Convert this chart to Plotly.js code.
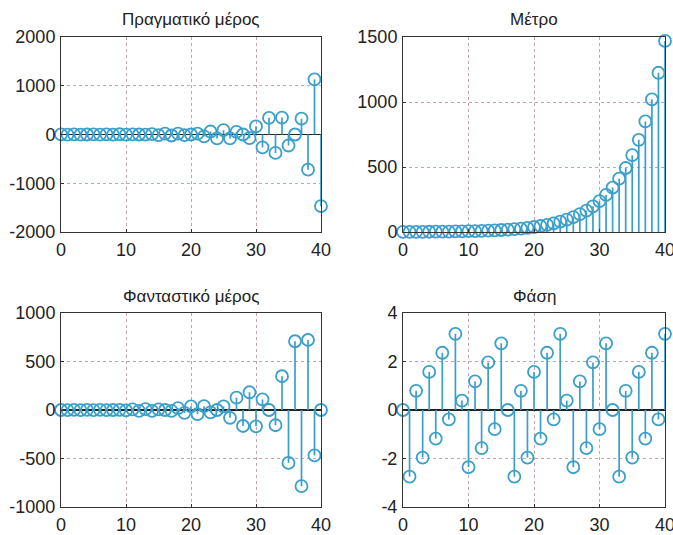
<!DOCTYPE html>
<html>
<head>
<meta charset="utf-8">
<script src="https://cdn.plot.ly/plotly-3.0.1.min.js"></script>
<style>html,body{margin:0;padding:0;background:#fff;}#chart{width:673px;height:535px;}</style>
</head>
<body>
<div id="chart"></div>
<script>
// sample index
const n = [0,1,2,3,4,5,6,7,8,9,10,11,12,13,14,15,16,17,18,19,20,21,22,23,24,25,26,27,28,29,30,31,32,33,34,35,36,37,38,39,40];
// real part
const realPart = [1.00,-1.11,1.02,-0.66,0.00,0.95,-2.11,3.31,-4.30,4.77,-4.38,2.84,0.00,-4.09,9.08,-14.23,18.49,-20.50,18.83,-12.23,0.00,17.61,-39.04,61.20,-79.50,88.13,-80.95,52.57,0.00,-75.70,167.85,-263.17,341.82,-378.96,348.06,-226.04,0.00,325.49,-721.73,1131.58,-1469.77];
// imaginary part
const imagPart = [0.00,-0.46,1.02,-1.60,2.07,-2.30,2.11,-1.37,0.00,1.97,-4.38,6.86,-8.92,9.88,-9.08,5.90,0.00,-8.49,18.83,-29.52,38.34,-42.50,39.04,-25.35,0.00,36.51,-80.95,126.91,-164.84,182.76,-167.85,109.01,0.00,-156.97,348.06,-545.71,708.80,-785.82,721.73,-468.71,0.00];
// magnitude
const magnitude = [1.00,1.20,1.44,1.73,2.07,2.49,2.99,3.58,4.30,5.16,6.19,7.43,8.92,10.70,12.84,15.41,18.49,22.19,26.62,31.95,38.34,46.01,55.21,66.25,79.50,95.40,114.48,137.37,164.84,197.81,237.38,284.85,341.82,410.19,492.22,590.67,708.80,850.56,1020.67,1224.81,1469.77];
// phase (rad)
const phase = [0.00,-2.75,0.79,-1.96,1.57,-1.18,2.36,-0.39,3.14,0.39,-2.36,1.18,-1.57,1.96,-0.79,2.75,0.00,-2.75,0.79,-1.96,1.57,-1.18,2.36,-0.39,3.14,0.39,-2.36,1.18,-1.57,1.96,-0.79,2.75,0.00,-2.75,0.79,-1.96,1.57,-1.18,2.36,-0.39,3.14];

// tick labels
const xTicks = [0,10,20,30,40];
const yTicksReal = [-2000,-1000,0,1000,2000];
const yTicksMag = [0,500,1000,1500];
const yTicksImag = [-1000,-500,0,500,1000];
const yTicksPhase = [-4,-2,0,2,4];

const titles = ['Πραγματικό μέρος','Μέτρο','Φανταστικό μέρος','Φάση'];
const series = [realPart, magnitude, imagPart, phase];
const yTickSets = [yTicksReal, yTicksMag, yTicksImag, yTicksPhase];

const stemColor = '#3a9fcb';
const gridColor = '#c4a3b6';
const textColor = '#222';

const traces = [];
series.forEach((vals, i) => {
  const ax = i === 0 ? '' : String(i + 1);
  const sx = [], sy = [];
  n.forEach((k, j) => { sx.push(k, k, null); sy.push(0, vals[j], null); });
  traces.push({x: sx, y: sy, xaxis: 'x' + ax, yaxis: 'y' + ax, mode: 'lines',
    line: {color: stemColor, width: 1.7}, hoverinfo: 'skip', showlegend: false});
  traces.push({x: n, y: vals, xaxis: 'x' + ax, yaxis: 'y' + ax, mode: 'markers', cliponaxis: false,
    marker: {symbol: 'circle-open', size: 12, color: stemColor, line: {width: 1.8, color: stemColor}},
    showlegend: false});
});

const W = 673, H = 535;
const xDom = [[61/W, 321/W], [403/W, 665/W]];
const yDom = [[1 - 232/H, 1 - 37/H], [1 - 507/H, 1 - 313/H]];

const layout = {
  width: W, height: H, margin: {l: 0, r: 0, t: 0, b: 0},
  paper_bgcolor: '#fff', plot_bgcolor: '#fff',
  font: {family: 'Liberation Sans, Arial, sans-serif', color: textColor, size: 18},
  annotations: [], shapes: []
};

const lbl = v => String(v); // plain hyphen minus, as in the reference

for (let i = 0; i < 4; i++) {
  const ax = i === 0 ? '' : String(i + 1);
  const col = i % 2, row = Math.floor(i / 2);
  const yt = yTickSets[i];
  layout['xaxis' + ax] = {
    domain: xDom[col], anchor: 'y' + ax, range: [0, 40],
    tickmode: 'array', tickvals: xTicks, ticktext: xTicks.map(lbl),
    showgrid: true, gridcolor: gridColor, griddash: 'dot', gridwidth: 1,
    zeroline: false, showline: true, linecolor: '#333', linewidth: 1, mirror: true,
    ticks: 'inside', ticklen: 3, tickcolor: '#333', ticklabeloverflow: 'allow',
    tickfont: {size: 18, color: textColor}, ticklabelstandoff: 1, fixedrange: true
  };
  layout['yaxis' + ax] = {
    domain: yDom[row], anchor: 'x' + ax, range: [yt[0], yt[yt.length - 1]],
    tickmode: 'array', tickvals: yt, ticktext: yt.map(lbl),
    showgrid: true, gridcolor: gridColor, griddash: 'dot', gridwidth: 1,
    zeroline: true, zerolinecolor: '#222', zerolinewidth: 1.2,
    showline: true, linecolor: '#333', linewidth: 1, mirror: true,
    ticks: 'inside', ticklen: 3, tickcolor: '#333', ticklabeloverflow: 'allow',
    tickfont: {size: 18, color: textColor}, ticklabelstandoff: 1, fixedrange: true
  };
  layout.annotations.push({
    text: titles[i], xref: 'paper', yref: 'paper',
    x: (xDom[col][0] + xDom[col][1]) / 2, y: yDom[row][1] + 17/H,
    xanchor: 'center', yanchor: 'middle', showarrow: false,
    font: {size: 17, color: textColor}
  });
}

Plotly.newPlot('chart', traces, layout, {displayModeBar: false, staticPlot: true});
</script>
</body>
</html>
